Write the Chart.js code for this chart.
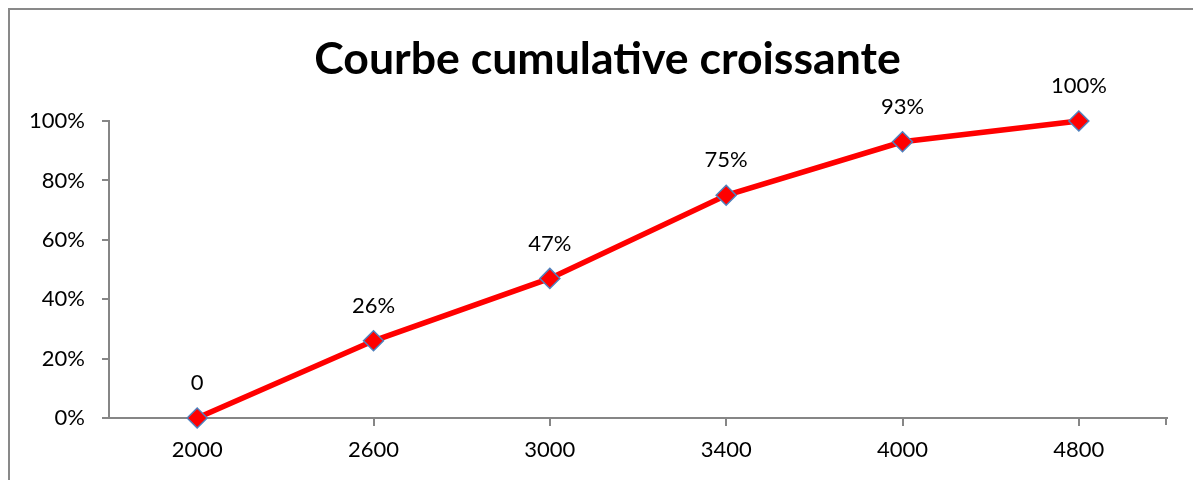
<!DOCTYPE html>
<html>
<head>
<meta charset="utf-8">
<script src="https://cdn.jsdelivr.net/npm/chart.js@4.4.0/dist/chart.umd.min.js"></script>
<style>
  html, body { margin: 0; padding: 0; background: #fff; overflow: hidden; }
  #wrap { position: absolute; left: 0; top: 0; width: 1207px; height: 480px; }
</style>
</head>
<body>
<div id="wrap"><canvas id="c" width="1207" height="480" style="width:1207px;height:480px"></canvas></div>
<script>
// Class upper bounds and cumulative relative frequency
const categories = ['2000', '2600', '3000', '3400', '4000', '4800'];
const cumulativeShare = [0, 0.26, 0.47, 0.75, 0.93, 1.00];
const pointLabels = ['0', '26%', '47%', '75%', '93%', '100%'];
const yTickValues = [0, 0.2, 0.4, 0.6, 0.8, 1];

const FONT = 'Lato, "Open Sans", sans-serif';
const AXIS_GREY = '#868686';

// Outer frame (left and top edges of the chart box)
const framePlugin = {
  id: 'frame',
  beforeDraw(chart) {
    const ctx = chart.ctx;
    ctx.save();
    ctx.strokeStyle = '#898989';
    ctx.lineWidth = 2;
    ctx.beginPath();
    ctx.moveTo(9, 480);
    ctx.lineTo(9, 9);
    ctx.lineTo(chart.width, 9);
    ctx.stroke();
    ctx.restore();
  }
};

// Centre the title on the whole chart box rather than the padded layout area
const titleCentrePlugin = {
  id: 'titleCentre',
  afterLayout(chart) {
    const tb = chart.titleBlock;
    if (tb) {
      const shift = 20;
      tb.left += shift;
      tb.right += shift;
    }
  }
};

// Closing tick mark at the right end of the category axis
const endTickPlugin = {
  id: 'endTick',
  afterDraw(chart) {
    const x = chart.scales.x;
    const ctx = chart.ctx;
    ctx.save();
    ctx.strokeStyle = AXIS_GREY;
    ctx.lineWidth = 2;
    ctx.beginPath();
    ctx.moveTo(x.right - 1, x.top - 1);
    ctx.lineTo(x.right - 1, x.top + 7);
    ctx.stroke();
    ctx.restore();
  }
};

// Value labels above each marker
const valueLabelPlugin = {
  id: 'valueLabels',
  afterDatasetsDraw(chart) {
    const meta = chart.getDatasetMeta(0);
    const ctx = chart.ctx;
    ctx.save();
    ctx.font = '22px ' + FONT;
    ctx.fillStyle = '#000';
    ctx.textAlign = 'center';
    ctx.textBaseline = 'middle';
    meta.data.forEach((pt, i) => {
      ctx.fillText(pointLabels[i], pt.x, pt.y - 35);
    });
    ctx.restore();
  }
};

new Chart(document.getElementById('c'), {
  type: 'line',
  data: {
    labels: categories,
    datasets: [{
      data: cumulativeShare,
      clip: false,
      borderColor: '#FF0000',
      borderWidth: 5.5,
      tension: 0,
      pointStyle: 'rectRot',
      pointRadius: 10,
      pointBackgroundColor: '#FF0000',
      pointBorderColor: '#4F81BD',
      pointBorderWidth: 1.5
    }]
  },
  options: {
    responsive: false,
    animation: false,
    layout: { padding: { left: 8, right: 40, top: 9, bottom: 0 } },
    plugins: {
      legend: { display: false },
      tooltip: { enabled: false },
      title: {
        display: true,
        text: 'Courbe cumulative croissante',
        color: '#000',
        font: { family: FONT, size: 44.6, weight: 'bold', lineHeight: 1.2 },
        padding: { top: 24, bottom: 34.5 }
      }
    },
    scales: {
      x: {
        type: 'category',
        offset: true,
        grid: { offset: false, drawOnChartArea: false, drawTicks: true, tickLength: 8, color: AXIS_GREY, lineWidth: 2 },
        border: { color: AXIS_GREY, width: 2 },
        ticks: { color: '#000', font: { family: FONT, size: 22 }, padding: 11, maxRotation: 0 },
        afterFit(scale) { scale.height = 62; }
      },
      y: {
        min: 0,
        max: 1,
        afterBuildTicks(scale) { scale.ticks = yTickValues.map(v => ({ value: v })); },
        grid: { drawOnChartArea: false, drawTicks: true, tickLength: 7, color: AXIS_GREY, lineWidth: 2 },
        border: { color: AXIS_GREY, width: 2 },
        ticks: {
          color: '#000',
          font: { family: FONT, size: 22 },
          padding: 17,
          callback: v => Math.round(v * 100) + '%'
        },
        afterFit(scale) { scale.width = 101; }
      }
    }
  },
  plugins: [framePlugin, titleCentrePlugin, endTickPlugin, valueLabelPlugin]
});
</script>
</body>
</html>
